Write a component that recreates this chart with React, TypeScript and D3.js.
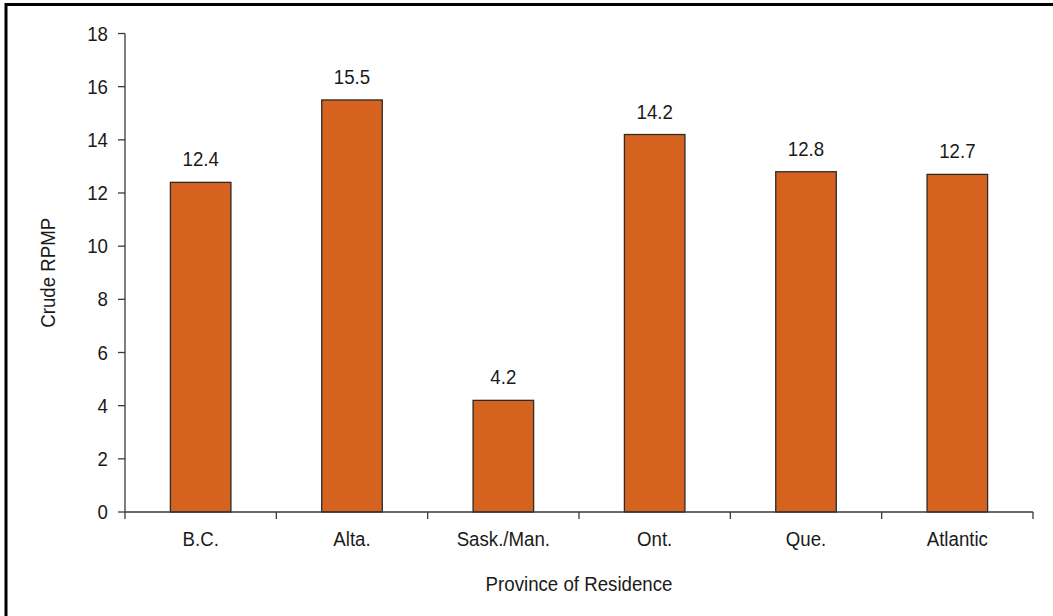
import React from "react";
import * as d3 from "d3";

// Crude RPMP by province of residence
const provinces = ["B.C.", "Alta.", "Sask./Man.", "Ont.", "Que.", "Atlantic"];
const rpmp = [12.4, 15.5, 4.2, 14.2, 12.8, 12.7];
const yTicks = [0, 2, 4, 6, 8, 10, 12, 14, 16, 18];

const W = 1053;
const H = 616;
const left = 125;
const right = 1033;
const top = 33.5;
const bottom = 512;

const FONT = "'Liberation Sans', Arial, Helvetica, sans-serif";
const FS = 20.3;
const NARROW = 0.92;
const BAR = "#D5621F";
const AXIS = "#3a3a3a";
const TEXT = "#1a1a1a";

type LabelProps = {
  x: number;
  y: number;
  anchor?: "start" | "middle" | "end";
  rotate?: number;
  dy?: string;
  children: React.ReactNode;
};

// Slightly condensed sans-serif label
function Label({ x, y, anchor = "middle", rotate = 0, dy, children }: LabelProps) {
  return (
    <text
      transform={`translate(${x},${y}) rotate(${rotate}) scale(${NARROW},1)`}
      textAnchor={anchor}
      dy={dy}
      fontSize={FS}
      fill={TEXT}
    >
      {children}
    </text>
  );
}

export default function App() {
  const x = d3
    .scaleBand<string>()
    .domain(provinces)
    .range([left, right])
    .paddingInner(0.6)
    .paddingOuter(0.3);
  const y = d3.scaleLinear().domain([0, 18]).range([bottom, top]);
  const step = x.step();
  const boundaries = d3.range(provinces.length + 1).map((i) => left + i * step);

  return (
    <svg
      width={W}
      height={H}
      viewBox={`0 0 ${W} ${H}`}
      style={{ position: "fixed", left: 0, top: 0, background: "#fff" }}
      fontFamily={FONT}
    >
      <rect x={0} y={0} width={W} height={H} fill="#fff" />
      {/* outer frame */}
      <rect x={6} y={4.5} width={W + 20} height={H + 20} fill="none" stroke="#000" strokeWidth={3} />

      {/* bars */}
      {provinces.map((p, i) => (
        <g key={p}>
          <rect
            x={x(p)!}
            y={y(rpmp[i])}
            width={x.bandwidth()}
            height={y(0) - y(rpmp[i])}
            fill={BAR}
            stroke="#2b2b2b"
            strokeWidth={1.3}
          />
          <Label x={x(p)! + x.bandwidth() / 2} y={y(rpmp[i]) - 16}>
            {rpmp[i].toFixed(1)}
          </Label>
        </g>
      ))}

      {/* y axis */}
      <line x1={left} x2={left} y1={top} y2={bottom} stroke={AXIS} strokeWidth={1.3} />
      {yTicks.map((t) => (
        <g key={t}>
          <line x1={left - 7} x2={left} y1={y(t)} y2={y(t)} stroke={AXIS} strokeWidth={1.3} />
          <Label x={left - 17} y={y(t)} anchor="end" dy="0.35em">
            {t}
          </Label>
        </g>
      ))}

      {/* x axis */}
      <line x1={left} x2={right} y1={bottom} y2={bottom} stroke={AXIS} strokeWidth={1.3} />
      {boundaries.map((b, i) => (
        <line key={i} x1={b} x2={b} y1={bottom} y2={bottom + 7} stroke={AXIS} strokeWidth={1.3} />
      ))}
      {provinces.map((p) => (
        <Label key={p} x={x(p)! + x.bandwidth() / 2} y={546}>
          {p}
        </Label>
      ))}

      {/* axis titles */}
      <Label x={(left + right) / 2} y={590.5}>
        Province of Residence
      </Label>
      <Label x={55} y={(top + bottom) / 2} rotate={-90}>
        Crude RPMP
      </Label>
    </svg>
  );
}
